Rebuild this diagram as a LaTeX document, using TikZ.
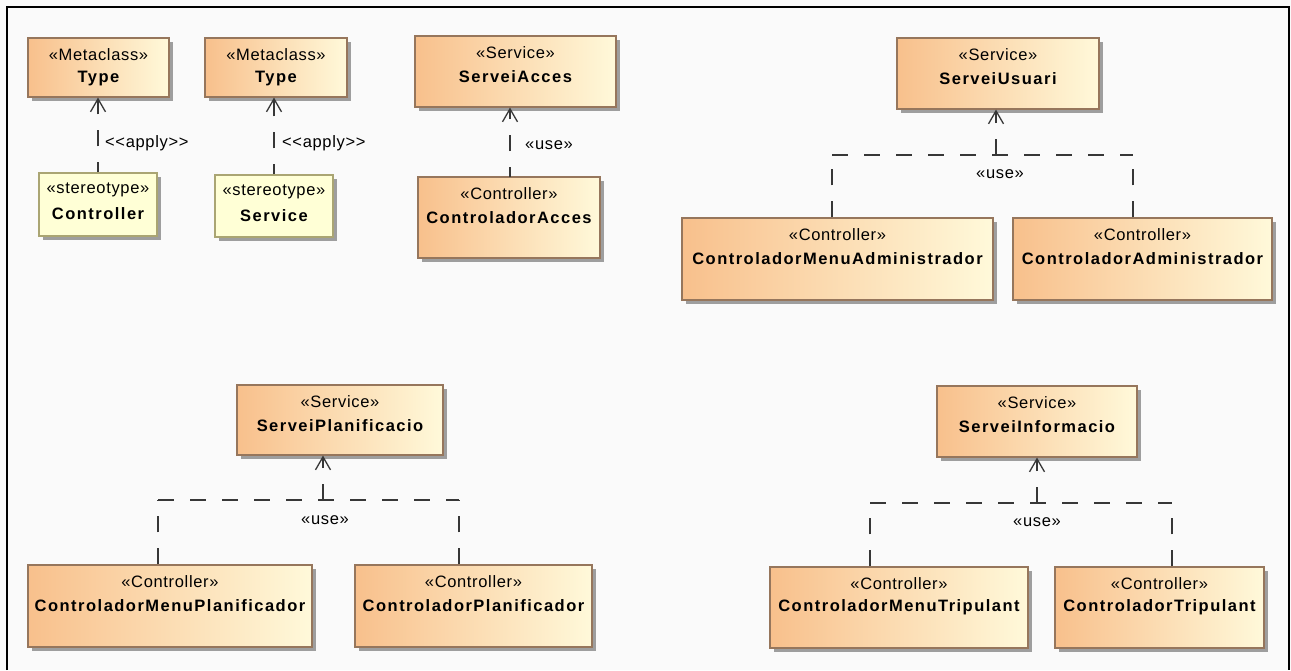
\documentclass[tikz,border=0pt]{standalone}
\usepackage{fontspec}
\setmainfont{Liberation Sans}
\newfontfamily\stfont[LetterSpace=4]{Liberation Sans}
\newfontfamily\nmfont[LetterSpace=9]{Liberation Sans}
\usetikzlibrary{shadows,arrows.meta}
\definecolor{clsA}{RGB}{248,192,140}
\definecolor{clsB}{RGB}{255,249,218}
\definecolor{clsBorder}{RGB}{150,118,92}
\definecolor{stFill}{RGB}{255,255,214}
\definecolor{stBorder}{RGB}{170,165,115}
\definecolor{lineC}{RGB}{55,55,55}
\tikzset{
  boxbase/.style={rectangle, inner sep=0pt, line width=1.1pt,
    drop shadow={shadow xshift=4pt, shadow yshift=-4pt, fill=black!38, opacity=1}},
  clsbox/.style={boxbase, draw=clsBorder, left color=clsA, right color=clsB},
  stbox/.style={boxbase, draw=stBorder, fill=stFill},
  sttext/.style={inner sep=0pt, font=\stfont\fontsize{16.5}{18}\selectfont, text=black},
  nmtext/.style={inner sep=0pt, font=\nmfont\bfseries\fontsize{16.5}{18}\selectfont, text=black},
  dep/.style={draw=lineC, line width=1.2pt, dash pattern=on 16pt off 16pt},
  deparrow/.style={dep, -{Straight Barb[length=13pt,width=15pt,line width=1.3pt]}},
  deplabel/.style={inner sep=0pt, font=\stfont\fontsize{16.5}{18}\selectfont, text=black}
}
\newcommand\umlbox[8]{%
  \node[#2, minimum width=#5pt, minimum height=#6pt] (#1) at (#3,#4) {};
  \node[sttext] (#1-s) at ([yshift=-17pt]#1.north) {#7};
  \node[nmtext] (#1-n) at ([yshift=-41pt]#1.north) {#8};}
\begin{document}
\begin{tikzpicture}[x=1pt,y=-1pt]
\useasboundingbox (0,0) rectangle (1291,670);
\fill[white!98!black] (0,0) rectangle (1291,670);
\draw[line width=2.8pt] (7,670) -- (7,7) -- (1289,7) -- (1289,670);

% top-left stereotypes
\umlbox{mt1}{clsbox}{98.5}{67.5}{141}{59}{«Metaclass»}{Type}
\umlbox{mt2}{clsbox}{276}{67.5}{142}{59}{«Metaclass»}{Type}
\umlbox{stc}{stbox}{98}{204.5}{118}{63}{«stereotype»}{Controller}
\umlbox{sts}{stbox}{274}{206}{118}{62}{«stereotype»}{Service}
\draw[deparrow, dash phase=6pt] (stc.north) -- (stc.north |- mt1.south);
\draw[deparrow, dash phase=6pt] (sts.north) -- (sts.north |- mt2.south);
\node[deplabel, anchor=west] (ap1) at (105,143) {<{}<apply>{}>};
\node[deplabel, anchor=west] (ap2) at (282,143) {<{}<apply>{}>};

% ServeiAcces
\umlbox{sa}{clsbox}{515.5}{71.5}{201}{71}{«Service»}{ServeiAcces}
\umlbox{ca}{clsbox}{509}{217.5}{182}{81}{«Controller»}{ControladorAcces}
\coordinate (caj) at (510,177);
\draw[deparrow, dash phase=6pt] (caj) -- (caj |- sa.south);
\node[deplabel, anchor=west] (u0) at (525,145) {«use»};

% ServeiUsuari
\umlbox{su}{clsbox}{998}{73.5}{202}{71}{«Service»}{ServeiUsuari}
\umlbox{cma}{clsbox}{837.5}{259}{311}{82}{«Controller»}{ControladorMenuAdministrador}
\umlbox{cad}{clsbox}{1142.5}{259}{259}{82}{«Controller»}{ControladorAdministrador}
\coordinate (j1) at (996,155);
\coordinate (a1) at (832,155);
\coordinate (b1) at (1133,155);
\draw[dep] (cma.north -| a1) -- (a1);
\draw[dep] (cad.north -| b1) -- (b1);
\draw[dep] (a1) -- (b1);
\draw[deparrow] (j1) -- (j1 |- su.south);
\node[deplabel] (u1) at (1000,174) {«use»};

% ServeiPlanificacio
\umlbox{sp}{clsbox}{340}{420}{206}{70}{«Service»}{ServeiPlanificacio}
\umlbox{cmp}{clsbox}{170}{606}{284}{82}{«Controller»}{ControladorMenuPlanificador}
\umlbox{cp}{clsbox}{473.5}{606}{237}{82}{«Controller»}{ControladorPlanificador}
\coordinate (j2) at (323,500);
\coordinate (a2) at (158,500);
\coordinate (b2) at (459,500);
\draw[dep] (cmp.north -| a2) -- (a2);
\draw[dep] (cp.north -| b2) -- (b2);
\draw[dep] (a2) -- (b2);
\draw[deparrow] (j2) -- (j2 |- sp.south);
\node[deplabel] (u2) at (325,520) {«use»};

% ServeiInformacio
\umlbox{si}{clsbox}{1037}{421.5}{200}{71}{«Service»}{ServeiInformacio}
\umlbox{cmt}{clsbox}{899}{607.5}{258}{81}{«Controller»}{ControladorMenuTripulant}
\umlbox{ct}{clsbox}{1159.5}{607.5}{209}{81}{«Controller»}{ControladorTripulant}
\coordinate (j3) at (1037,503);
\coordinate (a3) at (870,503);
\coordinate (b3) at (1172,503);
\draw[dep] (cmt.north -| a3) -- (a3);
\draw[dep] (ct.north -| b3) -- (b3);
\draw[dep] (a3) -- (b3);
\draw[deparrow] (j3) -- (j3 |- si.south);
\node[deplabel] (u3) at (1037,522) {«use»};
\end{tikzpicture}
\end{document}
